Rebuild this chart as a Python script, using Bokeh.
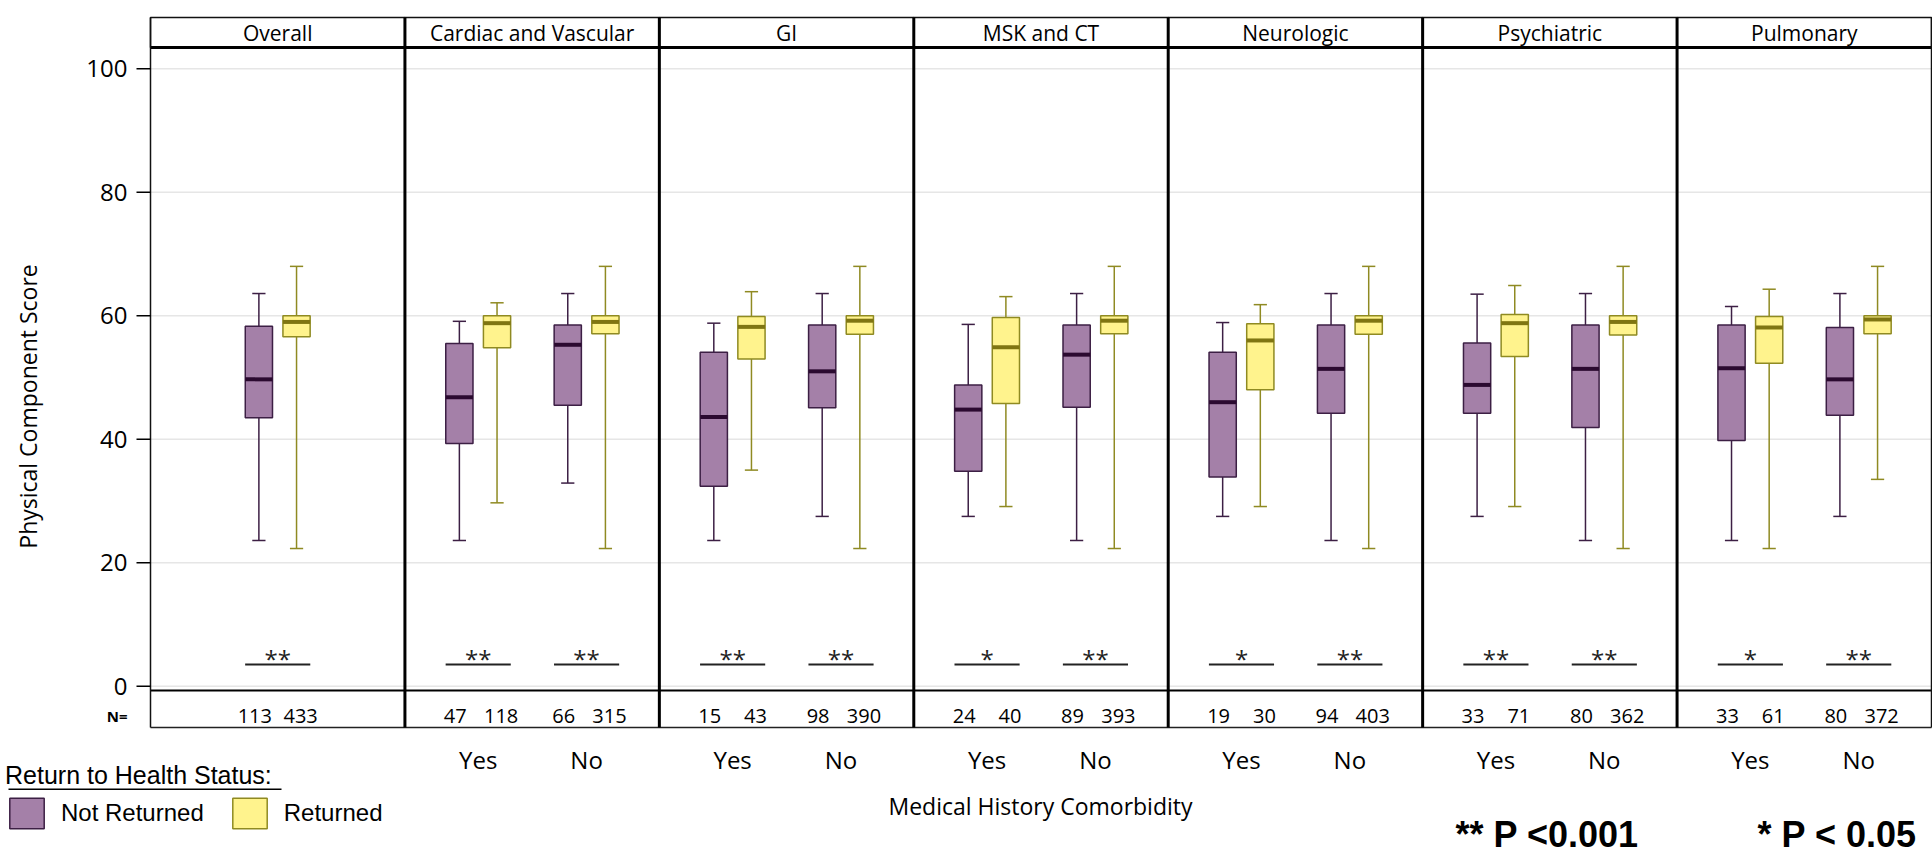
import math
from bokeh.plotting import figure
from bokeh.models import Range1d, Legend, LegendItem, ColumnDataSource
from bokeh.embed import file_html
from bokeh.resources import INLINE
from bokeh.core.properties import value

# ---------------- data ----------------
panels = ["Overall", "Cardiac and Vascular", "GI", "MSK and CT",
          "Neurologic", "Psychiatric", "Pulmonary"]
group_panel = [0, 1, 1, 2, 2, 3, 3, 4, 4, 5, 5, 6, 6]
group_label = ["", "Yes", "No", "Yes", "No", "Yes", "No",
               "Yes", "No", "Yes", "No", "Yes", "No"]

# Not Returned (purple)
nr_lo = [23.6, 23.6, 32.9, 23.6, 27.5, 27.5, 23.6, 27.5, 23.6, 27.5, 23.6, 23.6, 27.5]
nr_q1 = [43.5, 39.3, 45.5, 32.4, 45.1, 34.8, 45.2, 33.9, 44.2, 44.2, 41.9, 39.8, 43.9]
nr_med = [49.7, 46.8, 55.3, 43.6, 51.0, 44.8, 53.7, 46.0, 51.4, 48.8, 51.4, 51.5, 49.7]
nr_q3 = [58.3, 55.5, 58.5, 54.1, 58.5, 48.8, 58.5, 54.1, 58.5, 55.6, 58.5, 58.5, 58.1]
nr_hi = [63.6, 59.1, 63.6, 58.8, 63.6, 58.6, 63.6, 58.9, 63.6, 63.5, 63.6, 61.5, 63.6]
nr_n = [113, 47, 66, 15, 98, 24, 89, 19, 94, 33, 80, 33, 80]

# Returned (yellow)
r_lo = [22.3, 29.7, 22.3, 35.0, 22.3, 29.1, 22.3, 29.1, 22.3, 29.1, 22.3, 22.3, 33.5]
r_q1 = [56.6, 54.8, 57.1, 53.0, 57.0, 45.8, 57.1, 48.0, 57.0, 53.4, 56.9, 52.3, 57.1]
r_med = [59.0, 58.8, 59.0, 58.2, 59.2, 54.9, 59.2, 56.0, 59.2, 58.8, 59.0, 58.1, 59.4]
r_q3 = [60.0, 60.0, 60.0, 59.9, 60.0, 59.7, 60.0, 58.7, 60.0, 60.2, 60.0, 59.9, 60.0]
r_hi = [68.0, 62.1, 68.0, 63.9, 68.0, 63.1, 68.0, 61.8, 68.0, 64.9, 68.0, 64.3, 68.0]
r_n = [433, 118, 315, 43, 390, 40, 393, 30, 403, 71, 362, 61, 372]

sig = ["**", "**", "**", "**", "**", "*", "**", "*", "**", "**", "**", "*", "**"]

y_ticks = [0, 20, 40, 60, 80, 100]
y_title = "Physical Component Score"
x_title = "Medical History Comorbidity"
legend_title = "Return to Health Status:"
status_labels = ["Not Returned", "Returned"]
p_notes = ["** P <0.001", "* P < 0.05"]

# ---------------- layout (pixels of the page) ----------------
W, H = 1932, 855
PU = 1000                                  # x units per panel
PX_L, PX_R = 150.0, 1931.0                 # panel block left/right
PXU = (PX_R - PX_L) / (7 * PU)
Y0_PAGE, Y_PX = 685.7, 6.174               # page y of score 0, px per score unit


def dx(px):
    return (px - PX_L) / PXU


def dy(py):
    return (Y0_PAGE - py) / Y_PX


POS = {"": 500, "Yes": 288, "No": 714}
OFF, BW, CAP, SIGW, NOFF = 74, 107, 52, 128, 90
HDR_TOP, HDR_BOT, NROW_TOP, NROW_BOT = dy(17), dy(47), dy(690), dy(727)

PURPLE_FILL, PURPLE_LINE, PURPLE_MED = "#A480A8", "#3C1F44", "#2B0A30"
YEL_FILL, YEL_LINE, YEL_MED = "#FFF38D", "#8F8A22", "#7F7512"
FONT = "Open Sans"
LFONT = "Liberation Sans"

gx = [pi * PU + POS[lab] for pi, lab in zip(group_panel, group_label)]

p = figure(width=W, height=H, output_backend="svg", toolbar_location=None,
           tools="", title=None, x_axis_type=None, y_axis_type=None,
           x_range=Range1d(dx(0), dx(W)), y_range=Range1d(dy(H), dy(0)),
           min_border=0, min_border_left=0, min_border_right=0,
           min_border_top=0, min_border_bottom=0)
p.background_fill_color = "white"
p.border_fill_color = "white"
p.outline_line_color = None

# grid lines over the panels
p.segment(x0=0, x1=7 * PU, y0=y_ticks, y1=y_ticks, line_color="#E6E6E6", line_width=1.5)

# header cells
hs = ColumnDataSource(dict(l=[i * PU for i in range(7)], r=[(i + 1) * PU for i in range(7)],
                           xc=[i * PU + PU / 2 for i in range(7)], t=panels))
p.quad(left="l", right="r", bottom=HDR_BOT, top=HDR_TOP, source=hs,
       fill_color="white", line_color="#111111", line_width=1.5)
p.text(x="xc", y=dy(32), text="t", source=hs,
       text_font=value(FONT), text_font_size="21px", text_align="center",
       text_baseline="middle", text_color="black")

# frame lines
p.segment(x0=0, y0=HDR_BOT, x1=7 * PU, y1=HDR_BOT, line_color="black", line_width=3)
p.segment(x0=0, y0=NROW_TOP, x1=7 * PU, y1=NROW_TOP, line_color="black", line_width=2)
p.segment(x0=0, y0=NROW_BOT, x1=7 * PU, y1=NROW_BOT, line_color="#222222", line_width=1.5)
p.segment(x0=[0, 7 * PU], y0=NROW_BOT, x1=[0, 7 * PU], y1=HDR_TOP,
          line_color="#111111", line_width=1.5)
sep = [i * PU for i in range(1, 7)]
p.segment(x0=sep, y0=NROW_BOT, x1=sep, y1=HDR_TOP, line_color="black", line_width=3)

# y axis: ticks, labels, title
p.segment(x0=dx(136), x1=0, y0=y_ticks, y1=y_ticks, line_color="black", line_width=1.5)
p.text(x=dx(127), y=y_ticks, text=[str(t) for t in y_ticks], text_font=value(FONT),
       text_font_size="24px", text_align="right", text_baseline="middle", text_color="black")
p.text(x=[dx(27)], y=[dy(406)], text=[y_title], angle=math.pi / 2, text_font=value(FONT),
       text_font_size="23px", text_align="center", text_baseline="middle", text_color="black")
p.text(x=[dx(127)], y=[dy(715)], text=["N="], text_font=value(FONT), text_font_size="15px",
       text_font_style="bold", text_align="right", text_baseline="middle", text_color="black")

# x labels: Yes / No and title
xs_lab = [x for x, lab in zip(gx, group_label) if lab]
xl = [lab for lab in group_label if lab]
p.text(x=xs_lab, y=dy(759), text=xl, text_font=value(FONT), text_font_size="24px",
       text_align="center", text_baseline="middle", text_color="black")
p.text(x=[dx(1040)], y=[dy(805)], text=[x_title], text_font=value(FONT),
       text_font_size="23px", text_align="center", text_baseline="middle", text_color="black")


def box_source(xs, lo, q1, med, q3, hi):
    return ColumnDataSource(dict(
        x=xs, lo=lo, q1=q1, med=med, q3=q3, hi=hi,
        x0=[x - BW / 2 for x in xs], x1=[x + BW / 2 for x in xs],
        c0=[x - CAP / 2 for x in xs], c1=[x + CAP / 2 for x in xs]))


renderers = []
for xs, lo, q1, med, q3, hi, fc, lc, mc in [
        ([g - OFF for g in gx], nr_lo, nr_q1, nr_med, nr_q3, nr_hi, PURPLE_FILL, PURPLE_LINE, PURPLE_MED),
        ([g + OFF for g in gx], r_lo, r_q1, r_med, r_q3, r_hi, YEL_FILL, YEL_LINE, YEL_MED)]:
    s = box_source(xs, lo, q1, med, q3, hi)
    p.segment(x0="x", y0="q3", x1="x", y1="hi", source=s, line_color=lc, line_width=1.5)
    p.segment(x0="x", y0="q1", x1="x", y1="lo", source=s, line_color=lc, line_width=1.5)
    p.segment(x0="c0", y0="hi", x1="c1", y1="hi", source=s, line_color=lc, line_width=1.5)
    p.segment(x0="c0", y0="lo", x1="c1", y1="lo", source=s, line_color=lc, line_width=1.5)
    r = p.vbar(x="x", width=BW, bottom="q1", top="q3", source=s,
               fill_color=fc, line_color=lc, line_width=1.5)
    p.segment(x0="x0", y0="med", x1="x1", y1="med", source=s, line_color=mc, line_width=4)
    renderers.append(r)

# significance markers
ss = ColumnDataSource(dict(x=gx, x0=[g - SIGW for g in gx], x1=[g + SIGW for g in gx], s=sig))
p.segment(x0="x0", y0=3.5, x1="x1", y1=3.5, source=ss, line_color="#222222", line_width=2)
p.text(x="x", y=4.5, text="s", source=ss, text_font=value(FONT), text_font_size="24px",
       text_align="center", text_baseline="alphabetic", text_color="#222222")

# N row
ns = ColumnDataSource(dict(
    x=[g - NOFF for g in gx] + [g + NOFF for g in gx],
    t=[str(v) for v in nr_n] + [str(v) for v in r_n]))
p.text(x="x", y=dy(715), text="t", source=ns, text_font=value(FONT), text_font_size="20px",
       text_align="center", text_baseline="middle", text_color="black")

# legend (bottom-left)
legend = Legend(items=[LegendItem(label=status_labels[0], renderers=[renderers[0]]),
                       LegendItem(label=status_labels[1], renderers=[renderers[1]])],
                location=(5, H - 832), orientation="horizontal", title=legend_title,
                title_text_font=LFONT, title_text_font_size="25px",
                title_text_font_style="normal", title_text_color="black",
                title_standoff=4, label_text_font=LFONT, label_text_font_size="24px",
                label_text_color="black", glyph_width=43, glyph_height=38,
                label_standoff=13, spacing=24, padding=0, margin=0,
                border_line_color=None, background_fill_alpha=0)
p.add_layout(legend)
p.segment(x0=dx(8), x1=dx(281), y0=dy(788.8), y1=dy(788.8), line_color="black", line_width=1.5)

# p-value notes
p.text(x=[dx(1455), dx(1757)], y=dy(834), text=p_notes, text_font=value(LFONT),
       text_font_size="36px", text_font_style="bold", text_align="left",
       text_baseline="middle", text_color="black")

open("out.html", "w").write(file_html(p, INLINE))
